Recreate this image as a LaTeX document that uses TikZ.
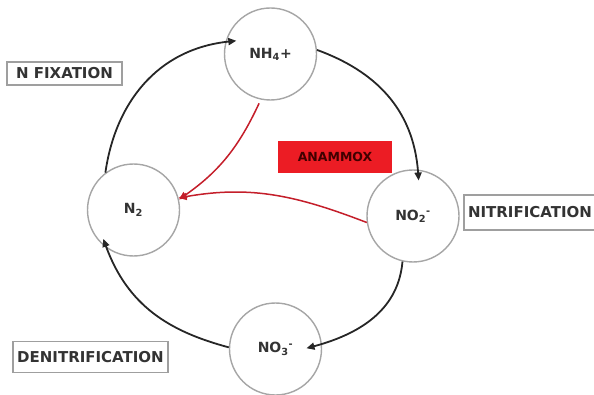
\documentclass[tikz,border=0pt]{standalone}
\usepackage{fontspec}
\setmainfont{DejaVu Sans}
\usetikzlibrary{arrows.meta, positioning}
\definecolor{mygray}{HTML}{333333}
\definecolor{myred}{HTML}{EC1C24}
\definecolor{arrowred}{HTML}{C41E2A}
\tikzset{
	cyclenode/.style={
			circle,
			draw=gray!70,
			line width=1.4pt,
			fill=white,
			minimum size=92pt,
			inner sep=0pt,
			font=\fontsize{14}{16}\selectfont\bfseries,
			text=mygray
		},
	labelbox/.style={
			rectangle,
			draw=gray!75,
			line width=1.2pt,
			fill=white,
			inner sep=0pt,
			font=\fontsize{15}{17}\selectfont\bfseries,
			text=mygray
		},
	redbox/.style={
			rectangle,
			fill=myred,
			inner sep=0pt,
			font=\fontsize{12.5}{14}\selectfont\bfseries,
			text=black!75!red
		}
}
\tikzset{
	cyclearrow/.style={-{Triangle[length=8pt,width=7pt]}, line width=1.8pt, black!85},
	anammoxarrow/.style={-{Triangle[length=8pt,width=7pt]}, line width=1.5pt, arrowred}
}

\begin{document}
\begin{tikzpicture}[x=1pt, y=1pt]
	\useasboundingbox (0,0) rectangle (594,394);

	\node[cyclenode] (nh4) at (270.5,340) {NH\textsubscript{4}+};
	\node[cyclenode] (n2)  at (133.5,184) {N\textsubscript{2}};
	\node[cyclenode] (no2) at (413,178)   {NO\textsubscript{2}\textsuperscript{-}};
	\node[cyclenode] (no3) at (275.5,45)  {NO\textsubscript{3}\textsuperscript{-}};

	\node[labelbox, minimum width=115pt, minimum height=23pt] (fixation) at (64.5,320.5) {N FIXATION};
	\node[labelbox, minimum width=155pt, minimum height=31pt] (denitrification) at (90.5,37) {DENITRIFICATION};
	\node[labelbox, minimum width=132pt, minimum height=35pt] (nitrification) at (530,181.5) {NITRIFICATION};
	\node[redbox, minimum width=114pt, minimum height=32pt] (anammox) at (335,237) {ANAMMOX};

	\draw[cyclearrow, shorten >=-11pt] (n2.127) to[out=82, in=186] (nh4.165);
	\draw[cyclearrow, shorten >=-11pt] (nh4.5) to[out=-20, in=94] (no2.84);
	\draw[cyclearrow, shorten >=-16pt] (no2.257) to[out=265, in=15] (no3.6);
	\draw[cyclearrow, shorten >=-10pt] (no3.178) to[out=165, in=-70] (n2.235);

	\draw[anammoxarrow, shorten <=4pt] (nh4.258) to[out=245, in=35] (n2.13);
	\draw[anammoxarrow] (no2.188) to[out=159, in=10] (n2.15);

\end{tikzpicture}
\end{document}
